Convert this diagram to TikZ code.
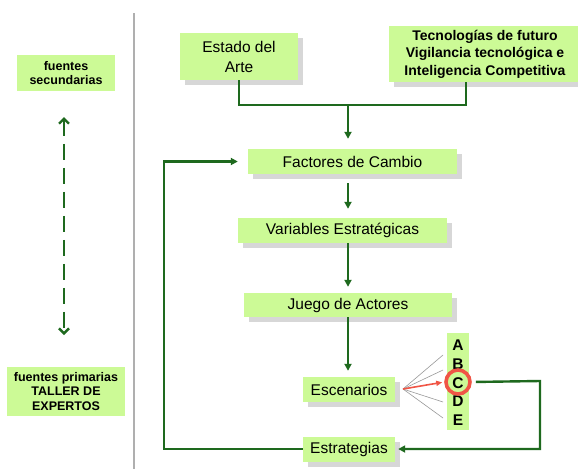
\documentclass[tikz,border=0pt]{standalone}
\usepackage{fontspec}
\setmainfont{Liberation Sans}
\usetikzlibrary{arrows.meta,shadows}
\definecolor{boxgreen}{RGB}{204,250,150}
\definecolor{dkgreen}{RGB}{30,105,30}
\definecolor{shadowgray}{RGB}{215,215,215}
\definecolor{redc}{RGB}{240,85,70}
\definecolor{sepgray}{RGB}{175,175,175}
\begin{document}
\begin{tikzpicture}[x=1pt,y=-1pt,
  gbox/.style={fill=boxgreen, inner sep=0pt, align=center,
    drop shadow={shadow xshift=5pt, shadow yshift=-5pt, fill=shadowgray, opacity=1}},
  flatbox/.style={fill=boxgreen, inner sep=0pt},
  txt/.style={font=\fontsize{15.5pt}{20pt}\selectfont},
  btxt/.style={font=\bfseries\fontsize{12.5pt}{14.5pt}\selectfont},
  letter/.style={font=\bfseries\fontsize{15.5pt}{15.5pt}\selectfont, inner sep=0pt},
  arr/.style={draw=dkgreen, line width=2.4pt, -{Triangle[length=7pt,width=7pt]}},
  garr/.style={draw=dkgreen, line width=2.4pt},
  fanline/.style={draw=gray!80, line width=0.6pt}
]
\useasboundingbox (0,0) rectangle (578,469);
\fill[white] (0,0) rectangle (578,469);

% separator
\draw[sepgray, line width=1.5pt] (134,13) -- (134,469);

% left column
\node[flatbox, btxt, minimum width=98pt, minimum height=36pt, align=center] (sec) at (66,73) {fuentes\\secundarias};
\node[flatbox, btxt, minimum width=118pt, minimum height=49pt, align=center] (prim) at (66,391.5) {fuentes primarias\\TALLER DE\\EXPERTOS};
\coordinate (dtop) at (64,117);
\coordinate (dbot) at (64,335);
\draw[draw=dkgreen, line width=2.4pt, dash pattern=on 16pt off 8pt,
  {Straight Barb[length=5pt,width=10pt]}-{Straight Barb[length=5pt,width=10pt]}] (dtop) -- (dbot);

% top boxes
\node[gbox, txt, minimum width=118pt, minimum height=47pt] (estado) at (239,56.5) {Estado del\\Arte};
\node[gbox, font=\bfseries\fontsize{14pt}{17.5pt}\selectfont, minimum width=192pt, minimum height=56pt] (tec) at (485,54) {Tecnologías de futuro\\Vigilancia tecnológica e\\Inteligencia Competitiva};

% main column
\node[gbox, txt, minimum width=209pt, minimum height=25pt] (fact) at (352.5,161.5) {Factores de Cambio};
\node[gbox, txt, minimum width=209pt, minimum height=25pt] (var) at (342.5,230.5) {Variables Estratégicas};
\node[gbox, txt, minimum width=208pt, minimum height=24pt] (juego) at (348,305) {Juego de Actores};
\node[gbox, txt, minimum width=92pt, minimum height=25pt] (esc) at (349,389.5) {Escenarios};
\node[gbox, txt, minimum width=92pt, minimum height=25pt] (estr) at (349,449) {Estrategias};

% scenario letters
\node[flatbox, minimum width=22pt, minimum height=97pt] (abcde) at (458,381.5) {};
\node[letter] (A) at (458,345) {A};
\node[letter] (B) at (458,364) {B};
\node[letter] (C) at (458,383) {C};
\node[letter] (D) at (458,401) {D};
\node[letter] (E) at (458,420) {E};
\node[draw=redc, line width=3.6pt, circle, minimum size=24pt, inner sep=0pt] (circ) at (458,382) {};

% bracket + arrows
\coordinate (brk) at (348,105);
\draw[garr] (estado.south) |- (brk) -| ([xshift=-19pt]tec.south);
\draw[arr, shorten >=10pt] (brk) -- (brk |- fact.north);
\draw[arr, shorten <=9pt, shorten >=9pt] (fact.south -| brk) -- (var.north -| brk);
\draw[arr, shorten >=6pt] (var.south -| brk) -- (juego.north -| brk);
\draw[arr, shorten >=6pt] (juego.south -| brk) -- (esc.north -| brk);

% fan from Escenarios
\coordinate (fan) at (403,389);
\coordinate (fa) at (443,355);
\coordinate (fb) at (443,370);
\coordinate (fd) at (443,402);
\coordinate (fe) at (443,418);
\draw[fanline] (fan) -- (fa);
\draw[fanline] (fan) -- (fb);
\draw[fanline] (fan) -- (fd);
\draw[fanline] (fan) -- (fe);
\draw[draw=redc, line width=1.6pt, -{Triangle[length=6pt,width=5pt]}, shorten >=2pt] (fan) -- (circ.west);

% loops
\draw[arr, shorten <=4pt] (circ.east) -- (540,381) |- ([xshift=3pt]estr.east);
\draw[arr, shorten >=10pt] (estr.west) -- (164,449) |- (fact.west);
\end{tikzpicture}
\end{document}
